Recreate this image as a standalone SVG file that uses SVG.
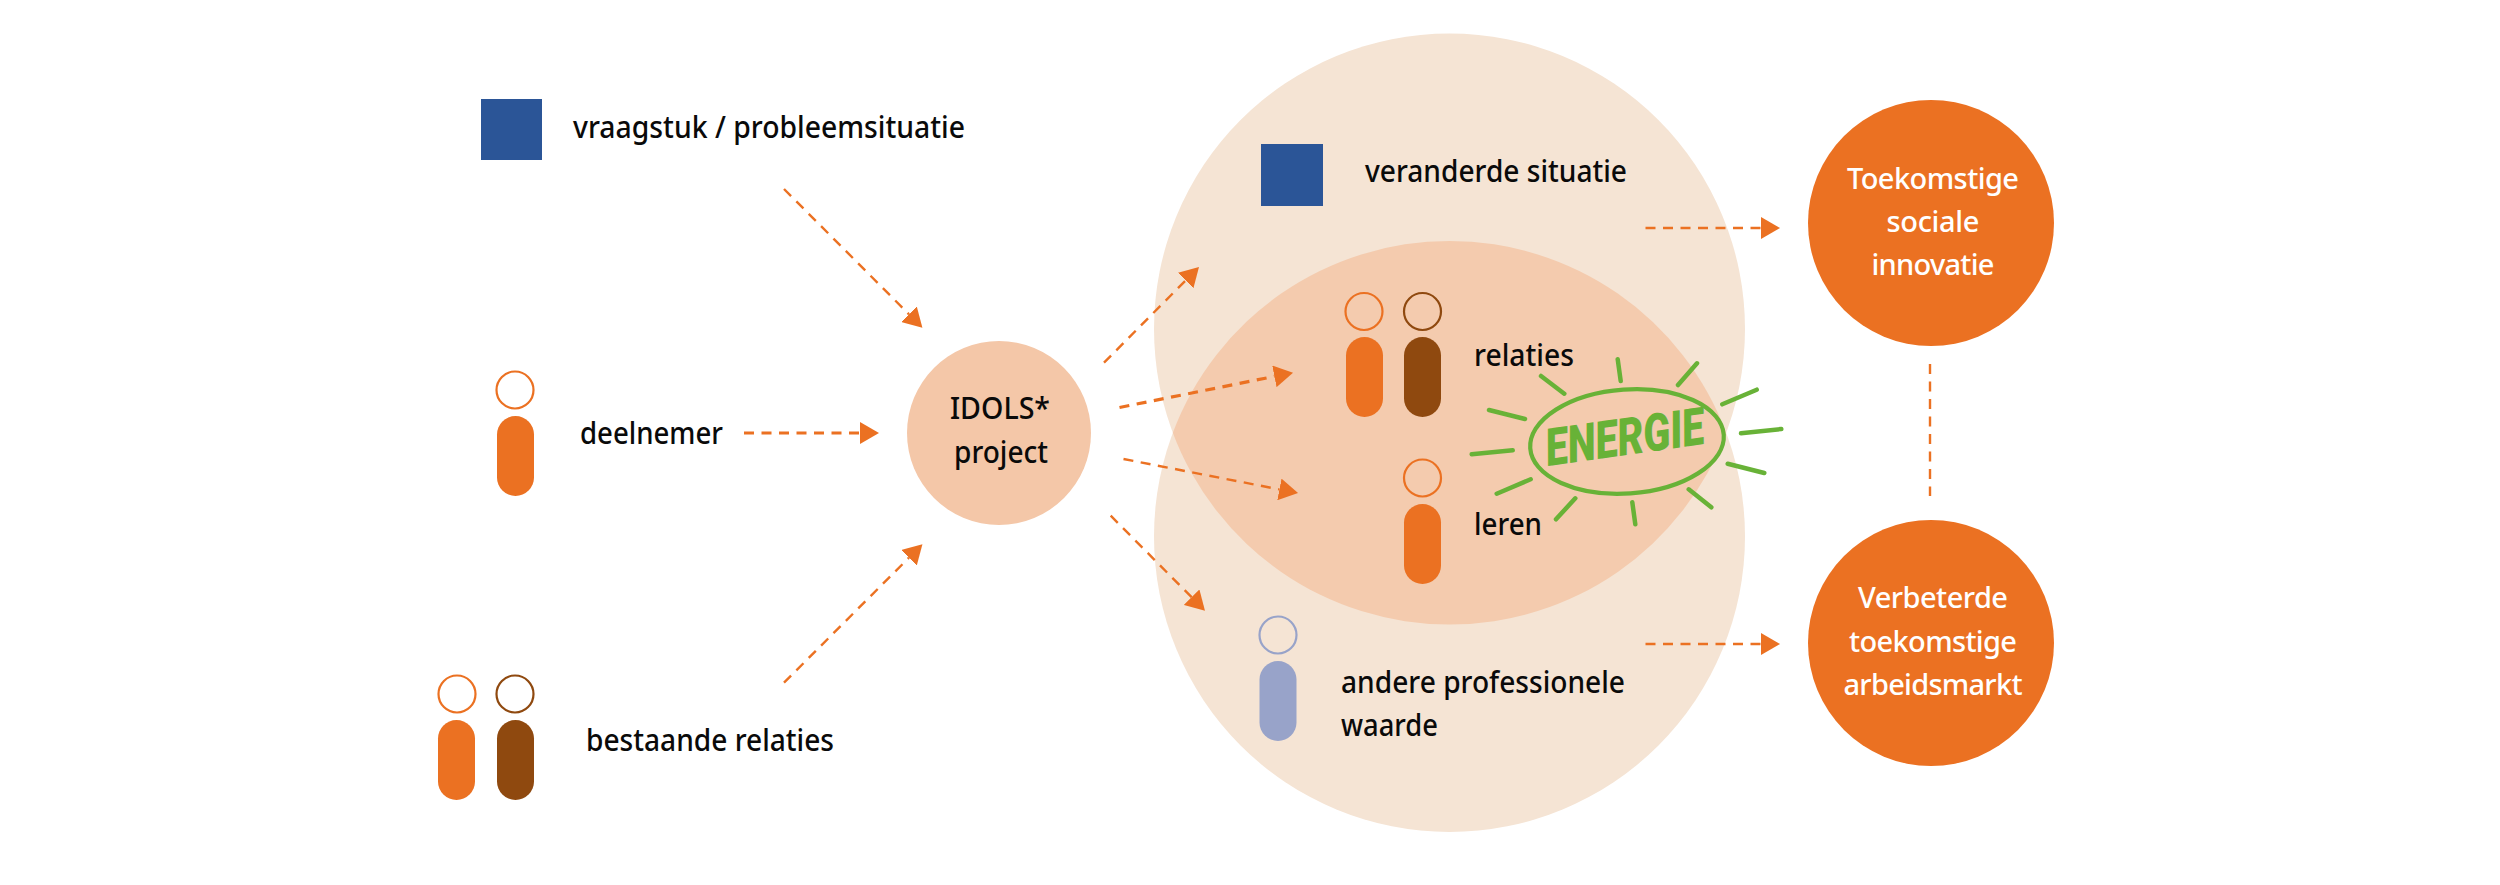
<svg xmlns="http://www.w3.org/2000/svg" width="2500" height="885" viewBox="0 0 2500 885">
<style>
text{font-family:"Noto Sans","Open Sans",sans-serif;font-size:30px;font-weight:500;fill:#0a0a0a}
.w{fill:#fff;font-size:29px;text-anchor:middle;font-weight:500}
.sq{fill:#2b5597}
.o{fill:#eb7122}.b{fill:#8f490f}.p{fill:#98a3c9}
.ho,.hb,.hp{fill:none;stroke-width:2.2}
.ho{stroke:#eb7122}.hb{stroke:#8f490f}.hp{stroke:#98a3c9}
.c{fill:none;stroke:#eb7122;stroke-width:2.4;stroke-dasharray:10 7.5}
.t{stroke-width:3.2}
.ray{fill:none;stroke:#68b237;stroke-width:4.5;stroke-linecap:round}
</style>
<defs>
<marker id="ah" markerUnits="userSpaceOnUse" markerWidth="19" markerHeight="22" refX="0" refY="11" orient="auto"><path d="M0,0L19,11L0,22z" fill="#eb7122"/></marker>
</defs>
<rect width="2500" height="885" fill="#fff"/>
<g id="outcome-area">
<circle cx="1449.5" cy="329" r="295.5" fill="#f5e4d4"/>
<circle cx="1449.5" cy="536.5" r="295.5" fill="#f5e4d4"/>
<path d="M1172.8,432.75A295.5,295.5 0 0 1 1726.2,432.75A295.5,295.5 0 0 1 1172.8,432.75z" fill="#f4cbae"/>
</g>
<g id="vraagstuk"><rect class="sq" x="481" y="99" width="61" height="61"/><text x="573" y="138" textLength="392" lengthAdjust="spacingAndGlyphs">vraagstuk / probleemsituatie</text></g>
<g id="deelnemer"><circle class="ho" cx="515" cy="390" r="18.5"/><rect class="o" x="497" y="416" width="37" height="80" rx="18.5"/><text x="580" y="444" textLength="143" lengthAdjust="spacingAndGlyphs">deelnemer</text></g>
<g id="bestaande-relaties"><circle class="ho" cx="457" cy="694" r="18.5"/><rect class="o" x="438" y="720" width="37" height="80" rx="18.5"/><circle class="hb" cx="515" cy="694" r="18.5"/><rect class="b" x="497" y="720" width="37" height="80" rx="18.5"/><text x="586" y="751" textLength="248" lengthAdjust="spacingAndGlyphs">bestaande relaties</text></g>
<g id="idols"><circle cx="999" cy="433" r="92" fill="#f4c7a8"/><text x="950" y="419" textLength="100" lengthAdjust="spacingAndGlyphs">IDOLS*</text><text x="954" y="463" textLength="94" lengthAdjust="spacingAndGlyphs">project</text></g>
<g id="veranderde-situatie"><rect class="sq" x="1261" y="144" width="62" height="62"/><text x="1365" y="182" textLength="262" lengthAdjust="spacingAndGlyphs">veranderde situatie</text></g>
<g id="relaties"><circle class="ho" cx="1364" cy="311.5" r="18.5"/><rect class="o" x="1346" y="337" width="37" height="80" rx="18.5"/><circle class="hb" cx="1422.5" cy="311.5" r="18.5"/><rect class="b" x="1404" y="337" width="37" height="80" rx="18.5"/><text x="1474" y="366" textLength="100" lengthAdjust="spacingAndGlyphs">relaties</text></g>
<g id="leren"><circle class="ho" cx="1422.5" cy="478" r="18.5"/><rect class="o" x="1404" y="504" width="37" height="80" rx="18.5"/><text x="1474" y="535" textLength="68" lengthAdjust="spacingAndGlyphs">leren</text></g>
<g id="andere-waarde"><circle class="hp" cx="1278" cy="635" r="18.5"/><rect class="p" x="1259.5" y="661" width="37" height="80" rx="18.5"/><text x="1341" y="693" textLength="284" lengthAdjust="spacingAndGlyphs">andere professionele</text><text x="1341" y="736" textLength="97" lengthAdjust="spacingAndGlyphs">waarde</text></g>
<g id="energie">
<ellipse cx="1627" cy="441.5" rx="97" ry="52" fill="none" stroke="#68b237" stroke-width="4.2" transform="rotate(-4 1627 441.5)"/>
<text x="1548" y="466" transform="rotate(-8 1548 466)" textLength="160" lengthAdjust="spacingAndGlyphs" style="font-family:'Roboto','Noto Sans',sans-serif;font-size:52px;font-weight:900;font-style:italic;fill:#68b237">ENERGIE</text>
<path class="ray" d="M1541,376L1564.3,393.7M1617.7,359.3L1620.7,381M1697,363.3L1678,385M1756.7,389.7L1722.3,404.3M1741,433.3L1781.3,429M1727.7,463.7L1764.3,473M1688.7,489.3L1711.3,507.3M1632.3,502.3L1635.3,524.3M1575.3,498.3L1556,519.3M1530.7,479.3L1496.7,493.7M1512.7,450.3L1471.7,454.3M1525,419L1489,410"/>
</g>
<g id="sociale-innovatie"><circle class="o" cx="1931" cy="223" r="123"/><text class="w" x="1933" y="189" textLength="172">Toekomstige</text><text class="w" x="1933" y="232" textLength="93">sociale</text><text class="w" x="1933" y="275" textLength="123">innovatie</text></g>
<g id="arbeidsmarkt"><circle class="o" cx="1931" cy="643" r="123"/><text class="w" x="1933" y="608" textLength="150">Verbeterde</text><text class="w" x="1933" y="652" textLength="168">toekomstige</text><text class="w" x="1933" y="695" textLength="179">arbeidsmarkt</text></g>
<g id="connectors">
<path class="c" d="M784,189L909,314.3" marker-end="url(#ah)"/>
<path class="c t" d="M744,433L860,433" marker-end="url(#ah)"/>
<path class="c" d="M784,682.7L909,557.7" marker-end="url(#ah)"/>
<path class="c" d="M1104,362.7L1185.6,280.5" marker-end="url(#ah)"/>
<path class="c t" d="M1119.5,407.5L1274.4,376.4" marker-end="url(#ah)"/>
<path class="c" d="M1123.5,459L1279.4,489.4" marker-end="url(#ah)"/>
<path class="c" d="M1110.7,515.7L1191.6,597.2" marker-end="url(#ah)"/>
<path class="c" d="M1645.5,228L1761,228" marker-end="url(#ah)"/>
<path class="c" d="M1645.5,644L1761,644" marker-end="url(#ah)"/>
<path class="c" d="M1930,364L1930,496"/>
</g>
</svg>
